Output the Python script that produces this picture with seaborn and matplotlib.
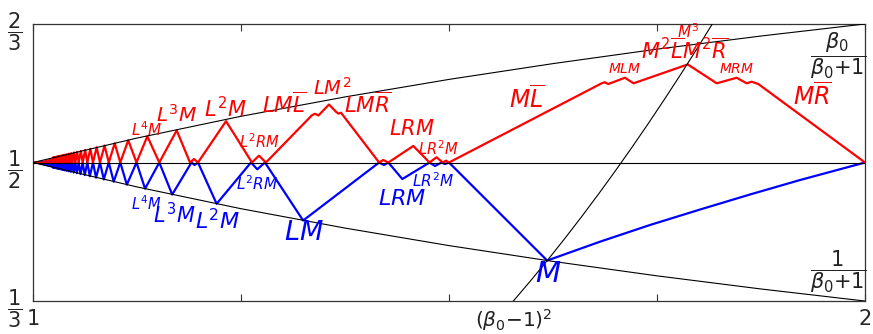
import matplotlib
matplotlib.use("Agg")
import matplotlib.pyplot as plt
import seaborn as sns

# boundaries beta0/(beta0+1) and 1/(beta0+1), read at a few beta0
edge_beta = [1.0, 1.125, 1.25, 1.375, 1.5, 1.625, 1.75, 1.875, 2.0]
edge_upper = [0.5, 0.5294, 0.5556, 0.5789, 0.6, 0.6190, 0.6364, 0.6522, 0.6667]
edge_lower = [0.5, 0.4706, 0.4444, 0.4211, 0.4, 0.3810, 0.3636, 0.3478, 0.3333]

# the (beta0-1)^2 curve
sq_beta = [1.56, 1.58, 1.60, 1.62, 1.64, 1.66, 1.68, 1.70, 1.72, 1.74, 1.76, 1.78, 1.80, 1.82, 1.84]
sq_y = [0.3136, 0.3364, 0.36, 0.3844, 0.4096, 0.4356, 0.4624, 0.49, 0.5184, 0.5476, 0.5776,
        0.6084, 0.64, 0.6724, 0.7056]

# left zigzag, n = 30 ... 5 (blue valleys on the lower edge, red peaks just under the upper one)
valley_beta = [1.0238, 1.0246, 1.0255, 1.0265, 1.0276, 1.0287, 1.0299, 1.0313, 1.0328, 1.0344,
               1.0362, 1.0382, 1.0404, 1.0429, 1.0457, 1.0490, 1.0527, 1.0571, 1.0622, 1.0683,
               1.0758, 1.0851, 1.0970, 1.1128, 1.1347, 1.1673]
valley_y = [0.4941, 0.4939, 0.4937, 0.4935, 0.4932, 0.4929, 0.4926, 0.4923, 0.4919, 0.4915,
            0.4911, 0.4906, 0.4901, 0.4895, 0.4888, 0.4880, 0.4872, 0.4861, 0.4849, 0.4835,
            0.4817, 0.4796, 0.4769, 0.4733, 0.4685, 0.4614]
peak_beta = [1.0240, 1.0248, 1.0257, 1.0267, 1.0278, 1.0289, 1.0301, 1.0315, 1.0330, 1.0346,
             1.0364, 1.0384, 1.0406, 1.0431, 1.0460, 1.0493, 1.0530, 1.0575, 1.0627, 1.0689,
             1.0765, 1.0860, 1.0982, 1.1145, 1.1374, 1.1727]
peak_y = [0.5059, 0.5061, 0.5063, 0.5065, 0.5068, 0.5071, 0.5074, 0.5077, 0.5081, 0.5085,
          0.5089, 0.5094, 0.5099, 0.5105, 0.5112, 0.5120, 0.5128, 0.5139, 0.5151, 0.5165,
          0.5183, 0.5204, 0.5231, 0.5267, 0.5315, 0.5386]
# points where both curves come back to 1/2 (between consecutive valleys)
cross_beta = [1.0242, 1.0251, 1.0260, 1.0271, 1.0282, 1.0293, 1.0306, 1.0321, 1.0336, 1.0353,
              1.0372, 1.0393, 1.0417, 1.0443, 1.0474, 1.0509, 1.0549, 1.0597, 1.0653, 1.0721,
              1.0805, 1.0911, 1.1049, 1.1244, 1.1518]
first_cross = 1.0234

# the solid wedge close to beta0 = 1
tip_beta = [1.0, 1.0242]
tip_upper = [0.5, 0.5060]
tip_lower = [0.5, 0.4940]

# right part, detailed
blue_right_beta = [1.1905, 1.1942, 1.1983, 1.2207, 1.2620, 1.2696, 1.2788, 1.3247,
                   1.4160, 1.4219, 1.4271, 1.4439, 1.4766, 1.4832, 1.4910, 1.4952, 1.5,
                   1.6180, 1.6815, 1.7416, 1.8017, 1.8618, 1.9219, 2.0]
blue_right_y = [0.5, 0.4970, 0.5, 0.4503, 0.5, 0.4918, 0.5, 0.4302,
                0.5, 0.4970, 0.5, 0.4801, 0.5, 0.4958, 0.5, 0.4982, 0.5,
                0.3820, 0.4047, 0.4248, 0.4434, 0.4615, 0.4789, 0.5]
red_right_beta = [1.1887, 1.1935, 1.1983, 1.2320, 1.2632, 1.2716, 1.2800,
                  1.3353, 1.3389, 1.3431, 1.3558, 1.3642, 1.3672, 1.3702,
                  1.4160, 1.4210, 1.4271, 1.4571, 1.4766, 1.4850, 1.4925, 1.4965, 1.5,
                  1.6835, 1.6872, 1.6914, 1.7115, 1.7218, 1.7870, 1.8218, 1.8458, 1.8578,
                  1.8638, 1.8717, 2.0]
red_right_y = [0.5, 0.5042, 0.5, 0.5497, 0.5, 0.5082, 0.5,
               0.5569, 0.5586, 0.5566, 0.5698, 0.5610, 0.5588, 0.5599,
               0.5, 0.5030, 0.5, 0.5199, 0.5, 0.5063, 0.5, 0.5022, 0.5,
               0.5953, 0.5966, 0.5944, 0.6020, 0.5953, 0.6180, 0.5953, 0.6020, 0.5953,
               0.5972, 0.5945, 0.5]

red_labels = [
    (r"$L^4M$", 1.1370, 0.5395, 11),
    (r"$L^3M$", 1.1719, 0.5572, 14.5),
    (r"$L^2M$", 1.2308, 0.5644, 15),
    (r"$L^2RM$", 1.2716, 0.5253, 10.5),
    (r"$LM\overline{L}$", 1.3017, 0.5704, 15.5),
    (r"$LM^2$", 1.3594, 0.5900, 14),
    (r"$LM\overline{R}$", 1.4026, 0.5704, 15.5),
    (r"$LRM$", 1.4555, 0.5409, 15),
    (r"$LR^2M$", 1.4868, 0.5162, 10.5),
    (r"$M\overline{L}$", 1.5938, 0.5764, 17),
    (r"$MLM$", 1.7115, 0.6131, 10),
    (r"$M^3$", 1.7873, 0.6570, 11),
    (r"$M^2\overline{L}M^2\overline{R}$", 1.7825, 0.6354, 15),
    (r"$MRM$", 1.8462, 0.6131, 10),
    (r"$M\overline{R}$", 1.9363, 0.5800, 17),
]
blue_labels = [
    (r"$L^4M$", 1.1358, 0.4501, 10.5),
    (r"$L^3M$", 1.1695, 0.4368, 15),
    (r"$L^2M$", 1.2212, 0.4296, 16),
    (r"$L^2RM$", 1.2692, 0.4741, 11),
    (r"$LM$", 1.3257, 0.4152, 19.5),
    (r"$LRM$", 1.4435, 0.4561, 16),
    (r"$LR^2M$", 1.4808, 0.4777, 11),
    (r"$M$", 1.6190, 0.3658, 21),
]

x_ticks = [1.0, 1.25, 1.5, 1.75, 2.0]
x_ticklabels = ["1", "", "", "", "2"]
y_ticks = [1 / 3, 1 / 2, 2 / 3]
y_ticklabels = [r"$\dfrac{1}{3}$", r"$\dfrac{1}{2}$", r"$\dfrac{2}{3}$"]

sns.set_theme(style="ticks")
plt.rcParams["font.family"] = ["DejaVu Sans"]
plt.rcParams["mathtext.fontset"] = "dejavusans"

# build the two zigzags
blue_x, blue_y = [1.0, first_cross], [0.5, 0.5]
red_x, red_y = [1.0, first_cross], [0.5, 0.5]
for i in range(len(valley_beta)):
    blue_x.append(valley_beta[i]); blue_y.append(valley_y[i])
    red_x.append(peak_beta[i]); red_y.append(peak_y[i])
    if i < len(cross_beta):
        blue_x.append(cross_beta[i]); blue_y.append(0.5)
        red_x.append(cross_beta[i]); red_y.append(0.5)
blue_x += blue_right_beta
blue_y += blue_right_y
red_x += red_right_beta
red_y += red_right_y

fig = plt.figure(figsize=(8.73, 3.34), dpi=100)
ax = fig.add_axes([33 / 873, 1 - 301 / 334, 832 / 873, 277 / 334])

ax.fill_between(tip_beta, tip_lower, 0.5, color="blue", lw=0, zorder=2)
ax.fill_between(tip_beta, 0.5, tip_upper, color="red", lw=0, zorder=2)
sns.lineplot(x=blue_x, y=blue_y, color="blue", lw=1.6, sort=False, estimator=None, ax=ax, zorder=3)
sns.lineplot(x=red_x, y=red_y, color="red", lw=1.6, sort=False, estimator=None, ax=ax, zorder=3)

sns.lineplot(x=edge_beta, y=edge_upper, color="black", lw=0.8, sort=False, estimator=None, ax=ax, zorder=4)
sns.lineplot(x=edge_beta, y=edge_lower, color="black", lw=0.8, sort=False, estimator=None, ax=ax, zorder=4)
sns.lineplot(x=sq_beta, y=sq_y, color="black", lw=0.8, sort=False, estimator=None, ax=ax, zorder=4)
ax.axhline(0.5, color="black", lw=0.8, zorder=4)

for txt, x, y, fs in red_labels:
    ax.text(x, y, txt, color="red", fontsize=fs, ha="center", va="center", zorder=5)
for txt, x, y, fs in blue_labels:
    ax.text(x, y, txt, color="blue", fontsize=fs, ha="center", va="center", zorder=5)

ax.text(1.9675, 0.6282, r"$\dfrac{\beta_0}{\beta_0{+}1}$", fontsize=15, color="#222222",
        ha="center", va="center", zorder=5)
ax.text(1.9675, 0.3682, r"$\dfrac{1}{\beta_0{+}1}$", fontsize=15, color="#222222",
        ha="center", va="center", zorder=5)
ax.text(1.5774, 0.3105, r"$(\beta_0{-}1)^2$", fontsize=14.5, color="#222222",
        ha="center", va="center", clip_on=False)

ax.set_xlim(1, 2)
ax.set_ylim(1 / 3, 2 / 3)
ax.set_xticks(x_ticks)
ax.set_xticklabels(x_ticklabels)
ax.set_yticks(y_ticks)
ax.set_yticklabels(y_ticklabels)
ax.tick_params(axis="x", direction="in", length=5, width=0.8, top=True, labelsize=15, pad=6,
               color="#333333")
ax.tick_params(axis="y", direction="in", length=0, labelsize=15, pad=8)
for s in ax.spines.values():
    s.set_color("#333333")
    s.set_linewidth(0.9)
ax.set_xlabel("")
ax.set_ylabel("")

fig.savefig("out.png", dpi=100)
